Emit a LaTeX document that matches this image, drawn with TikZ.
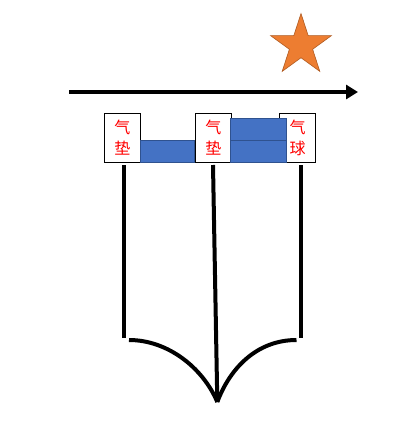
\documentclass[tikz,border=0pt]{standalone}
\usepackage{fontspec}
\newfontfamily\cjk{Noto Sans CJK SC}
\usetikzlibrary{shapes.geometric,arrows.meta}
\definecolor{boxblue}{HTML}{4472C4}
\definecolor{boxblueedge}{HTML}{2F528F}
\definecolor{starorange}{HTML}{ED7D31}
\definecolor{staredge}{HTML}{AE5A21}
\begin{document}
\begin{tikzpicture}[x=1pt,y=-1pt,
  labelbox/.style={draw=black,line width=1pt,fill=white,minimum width=36pt,minimum height=49pt,inner sep=0pt,
    font=\cjk\fontsize{16}{21}\selectfont,text=red,align=center},
  bluebar/.style={fill=boxblue,draw=boxblueedge,line width=0.8pt},
  thick line/.style={line width=4pt,black}]
\useasboundingbox (0,0) rectangle (402,437);
% star
\node[star,star points=5,star point ratio=2.618,minimum size=64pt,inner sep=0pt,fill=starorange,draw=staredge,line width=0.6pt] (star) at (301,45.5) {};
% arrow
\coordinate (a0) at (69,92);
\coordinate (a1) at (358,92);
\draw[line width=3.5pt,-{Triangle[length=12pt,width=14pt]}] (a0) -- (a1);
% boxes
\node[labelbox] (b1) at (122.3,137.8) {气\\垫};
\node[labelbox] (b2) at (213.3,137.8) {气\\垫};
\node[labelbox] (b3) at (297.5,137.8) {气\\球};
% blue bars
\draw[bluebar] (b1.east |- 0,140.3) rectangle (b2.west |- 0,162.3);
\draw[bluebar] (230.8,118.3) rectangle (286.7,140.3);
\draw[bluebar] (230.8,140.3) rectangle (286.7,162.3);
% verticals
\coordinate (l0) at (124,165); \coordinate (l1) at (124,338);
\coordinate (m0) at (213,165); \coordinate (m1) at (217.3,402);
\coordinate (r0) at (301,165); \coordinate (r1) at (301,338);
\draw[thick line] (l0) -- (l1);
\draw[thick line] (m0) -- (m1);
\draw[thick line] (r0) -- (r1);
% curves
\coordinate (c1) at (129,340);
\coordinate (c2) at (296.5,340);
\draw[thick line] (c1) .. controls (168,340) and (203,368) .. (m1);
\draw[thick line] (c2) .. controls (257,340) and (230,368) .. (m1);
\end{tikzpicture}
\end{document}
